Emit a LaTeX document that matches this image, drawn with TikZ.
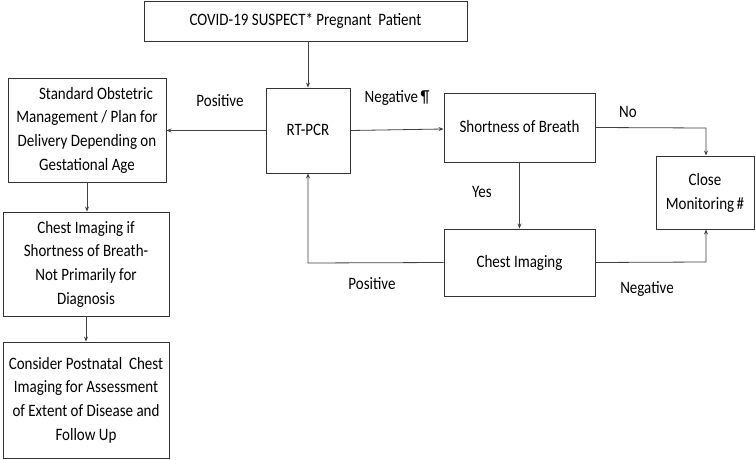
\documentclass[tikz,border=0pt]{standalone}
\usepackage{fontspec}
\setmainfont{Carlito}
\usetikzlibrary{arrows.meta}
\newcommand{\tx}[1]{\scalebox{1}[1.16]{\begin{tabular}{@{}c@{}}#1\end{tabular}}}
\begin{document}
\begin{tikzpicture}[x=1pt,y=-1pt,
  box/.style={draw=black!80, line width=0.9pt, align=center, inner sep=0pt,
    font=\fontsize{15}{20.5}\selectfont, text=black},
  lbl/.style={font=\fontsize{15}{18}\selectfont, text=black},
  conn/.style={draw=black!75, line width=0.8pt, -{Stealth[length=5pt,width=4pt]}}]
\useasboundingbox[fill=white] (0,0) rectangle (756,460);
\node[box, minimum width=323pt, minimum height=40pt] (top) at (305.5,21) {\tx{COVID-19 SUSPECT* Pregnant\ \ Patient}};
\node[box, minimum width=84pt, minimum height=85pt] (rt) at (308,130.5) {\tx{RT-PCR}};
\node[box, minimum width=158pt, minimum height=104pt] (b1) at (87,130) {\tx{\hspace*{1.2em}Standard Obstetric\\Management / Plan for\\Delivery Depending on\\Gestational Age}};
\node[box, minimum width=166pt, minimum height=104pt] (b2) at (86,264) {\tx{Chest Imaging if\\Shortness of Breath-\\Not Primarily for\\Diagnosis}};
\node[box, minimum width=166pt, minimum height=116pt] (b3) at (86,400) {\tx{Consider Postnatal\ \ Chest\\Imaging for Assessment\\of Extent of Disease and\\Follow Up}};
\node[box, minimum width=151pt, minimum height=69pt] (sob) at (519.5,127.5) {\tx{Shortness of Breath}};
\node[box, minimum width=98pt, minimum height=73pt] (cm) at (705,192.5) {\tx{Close\\Monitoring\,\#}};
\node[box, minimum width=151pt, minimum height=67pt] (ci) at (519.5,262.5) {\tx{Chest Imaging}};
\coordinate (c1) at (706,128);
\coordinate (c2) at (706,262);
\coordinate (c3) at (308,263);
\draw[conn] (top.south -| rt.north) -- (rt.north);
\draw[conn] (rt.west) -- (b1.east |- rt.west);
\draw[conn] (rt.east) -- ([yshift=-1.5pt]sob.west);
\draw[conn] (sob.east) -- (c1) -- (cm.north -| c1);
\draw[conn] (sob.south) -- (ci.north);
\draw[conn] (ci.east) -- (c2) -- (cm.south -| c2);
\draw[conn] (ci.west) -- (c3) -- (rt.south);
\draw[conn] (b1.south) -- (b2.north -| b1.south);
\draw[conn] (b2.south) -- (b3.north);
\node[lbl] (l1) at (220,102) {\tx{Positive}};
\node[lbl] (l2) at (397,98) {\tx{Negative\,¶}};
\node[lbl] (l3) at (628,113) {\tx{No}};
\node[lbl] (l4) at (482,193) {\tx{Yes}};
\node[lbl] (l5) at (372,285) {\tx{Positive}};
\node[lbl] (l6) at (647,289) {\tx{Negative}};
\end{tikzpicture}
\end{document}
